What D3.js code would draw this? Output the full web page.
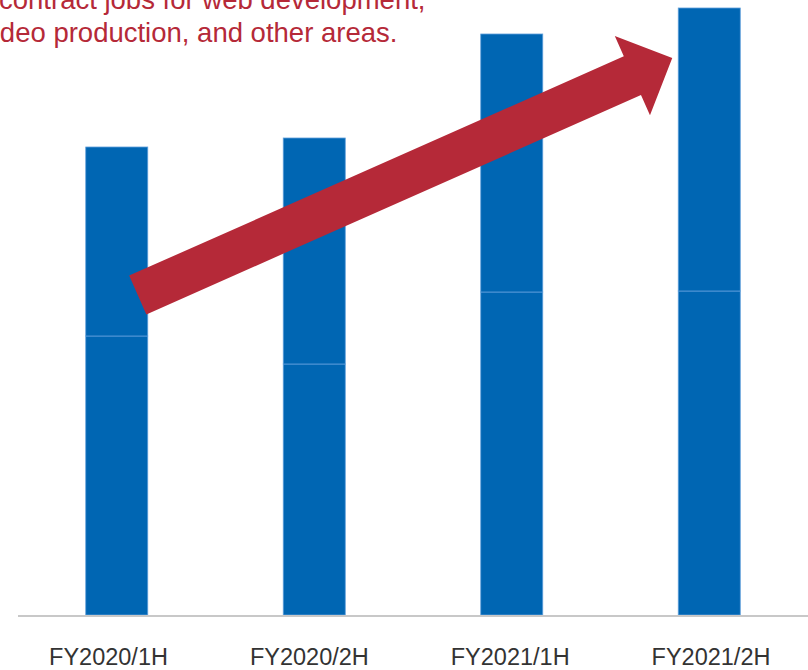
<!DOCTYPE html>
<html>
<head>
<meta charset="utf-8">
<script src="https://cdn.jsdelivr.net/npm/d3@7"></script>
<style>
  body { margin: 0; background: #fff; }
  svg { display: block; font-family: "Liberation Sans", Arial, sans-serif; }
</style>
</head>
<body>
<svg id="chart" width="808" height="670"></svg>
<script>
// half-year periods
const periods = ['FY2020/1H', 'FY2020/2H', 'FY2021/1H', 'FY2021/2H']
// lower and upper stack segments (arbitrary units)
const lowerValues = [279, 251, 323, 324]
const upperValues = [189, 226, 258, 283]
// caption lines, clipped at the top-left corner
const noteLines = ['contract jobs for web development,', 'video production, and other areas.']

const width = 808, height = 670
const baseY = 615
const barBlue = '#0066b3'
const red = '#b52938'

const svg = d3.select('#chart')

const x = d3.scaleBand().domain(periods).range([18, 808]).paddingInner(0.686).paddingOuter(0.343)
const y = d3.scaleLinear().domain([0, 607]).range([baseY, 8])
// labels sit on their own slightly wider spacing
const xLabel = d3.scalePoint().domain(periods).range([108, 710.5])

// stack the two segments
const rows = periods.map((p, i) => ({period: p, lower: lowerValues[i], upper: upperValues[i]}))
const stack = d3.stack().keys(['lower', 'upper'])(rows)

const barsGroup = svg.append('g').attr('class', 'bars')
barsGroup.selectAll('g.layer')
  .data(stack)
  .join('g')
  .attr('class', 'layer')
  .selectAll('rect')
  .data(d => d)
  .join('rect')
  .attr('x', d => x(d.data.period))
  .attr('y', d => y(d[1]))
  .attr('width', x.bandwidth())
  .attr('height', d => y(d[0]) - y(d[1]))
  .attr('fill', barBlue)
  .attr('stroke', '#5f9fdb')
  .attr('stroke-width', 0.8)

// baseline
svg.append('line')
  .attr('x1', 18).attr('x2', width)
  .attr('y1', baseY + 1).attr('y2', baseY + 1)
  .attr('stroke', '#c8c8c8')
  .attr('stroke-width', 2)

// category labels
const xAxis = d3.axisBottom(xLabel).tickSize(0).tickPadding(0)
const axisG = svg.append('g').attr('transform', `translate(0,${baseY + 33})`).call(xAxis)
axisG.select('.domain').remove()
axisG.selectAll('text')
  .attr('fill', '#333')
  .attr('font-size', 23.5)
  .attr('font-family', '"Liberation Sans", Arial, sans-serif')

// growth arrow from first bar towards last bar
const tail = [x(periods[0]) + x.bandwidth()/2 + 21, y(320)]
const tip = [x(periods[3]) + x.bandwidth()/2 - 37, y(557)]
const dx = tip[0]-tail[0], dy = tip[1]-tail[1]
const len = Math.hypot(dx, dy)
const ux = dx/len, uy = dy/len
const nx = -uy, ny = ux
const shaftHalf = 21.2, headHalf = 43.4, headLen = 43.6
const base = [tip[0] - headLen*ux, tip[1] - headLen*uy]
const pt = (p, k) => [p[0] + k*nx, p[1] + k*ny]
const arrowPts = [
  pt(tail, -shaftHalf), pt(base, -shaftHalf), pt(base, -headHalf), tip,
  pt(base, headHalf), pt(base, shaftHalf), pt(tail, shaftHalf)
]
svg.append('path')
  .attr('d', d3.line()(arrowPts) + 'Z')
  .attr('fill', red)

// caption text
svg.append('g').selectAll('text')
  .data(noteLines)
  .join('text')
  .attr('x', (d, i) => i === 0 ? -1 : -20)
  .attr('y', (d, i) => 9 + i*33)
  .attr('fill', red)
  .attr('font-size', 27.5)
  .text(d => d)
</script>
</body>
</html>
